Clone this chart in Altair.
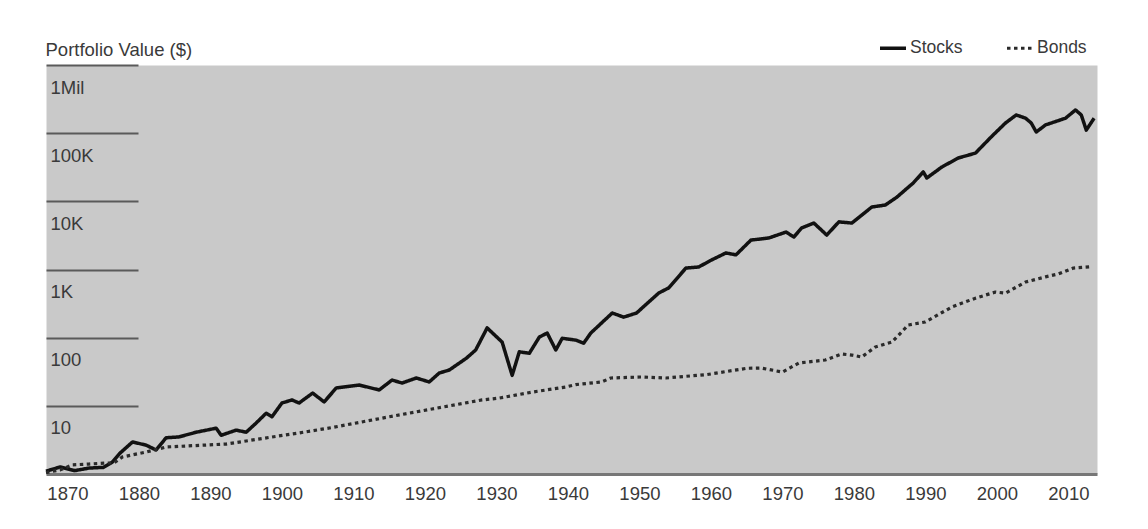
import altair as alt
import pandas as pd

# ---- data ----
stock_years = [1867, 1869, 1871, 1873, 1875, 1876.3, 1877.3, 1879.1, 1881, 1882.4,
               1883.8, 1885.6, 1888, 1890.8, 1891.5, 1893.6, 1895, 1896.4, 1897.8, 1898.6,
               1900, 1901.4, 1902.4, 1904.3, 1905.9, 1907.6, 1910.8, 1913.6, 1915.4, 1916.8,
               1918.8, 1920.6, 1922, 1923.4, 1925.8, 1927.1, 1928.7, 1930.8, 1932.2, 1933.2,
               1934.6, 1936, 1937.1, 1938.3, 1939.2, 1941.1, 1942.2, 1943.2, 1946.2, 1947.8,
               1949.6, 1952.7, 1954.1, 1956.5, 1958.3, 1960.1, 1962.1, 1963.5, 1965.6, 1968.1,
               1970.5, 1971.6, 1972.7, 1974.4, 1976.2, 1977.9, 1979.7, 1982.5, 1984.4, 1986,
               1988.3, 1989.7, 1990.2, 1992.3, 1994.6, 1997, 1999.2, 2001.2, 2002.7, 2004,
               2004.8, 2005.5, 2006.8, 2009.6, 2011, 2011.8, 2012.5, 2013.6]
stock_values = [1.1, 1.27, 1.12, 1.22, 1.25, 1.5, 2.0, 2.95, 2.65, 2.25,
                3.4, 3.5, 4.1, 4.7, 3.7, 4.4, 4.1, 5.6, 7.8, 6.9,
                11, 12.2, 11, 15.4, 11.4, 18.3, 20.2, 17.1, 23.9, 21.6,
                25.6, 22.4, 30.3, 33.5, 50, 66, 139, 86, 28, 62,
                59, 102, 117, 66, 98, 92, 83, 117, 230, 200,
                230, 452, 537, 1050, 1090, 1380, 1750, 1640, 2700, 2900,
                3540, 3000, 4070, 4800, 3200, 5000, 4800, 8250, 8830, 11500,
                18600, 27000, 22000, 31900, 43200, 51000, 88000, 141000, 185000, 166000,
                141000, 104000, 132000, 166000, 219000, 185000, 111000, 166000]

bond_years = [1867, 1869, 1870.7, 1873, 1875.4, 1876.5, 1877.7, 1881, 1883.8, 1889.4,
              1892.2, 1895, 1898.6, 1902.4, 1907, 1914, 1921, 1928, 1930.4, 1935,
              1939.7, 1941.1, 1944.7, 1946, 1950.3, 1953.7, 1959.5, 1965, 1967, 1970,
              1972.3, 1976, 1978.3, 1979.7, 1981.1, 1983, 1985.3, 1987.6, 1990, 1993.7,
              1997, 1999.8, 2001.2, 2004, 2006.8, 2008.6, 2010.7, 2013.3]
bond_values = [1.05, 1.15, 1.36, 1.4, 1.45, 1.45, 1.78, 2.1, 2.49, 2.66,
               2.75, 3.05, 3.49, 4.0, 4.8, 6.6, 9.0, 12.2, 13, 15.9,
               18.9, 20.5, 22.4, 25.6, 26.5, 25.6, 28.8, 35.5, 35.9, 31.3,
               42.5, 47, 57.6, 55.6, 52, 73, 86, 153, 170, 282,
               380, 467, 450, 655, 780, 860, 1050, 1100]

series_names = ["Stocks", "Bonds"]
x_tick_years = [1870, 1880, 1890, 1900, 1910, 1920, 1930, 1940, 1950, 1960, 1970, 1980, 1990, 2000, 2010]
y_tick_values = [10, 100, 1000, 10000, 100000, 1000000]
y_tick_labels = ["10", "100", "1K", "10K", "100K", "1Mil"]
x_domain = [1867, 2014]
y_domain = [1, 1000000]

rows = [{"year": y, "value": v, "series": "Stocks"} for y, v in zip(stock_years, stock_values)]
rows += [{"year": y, "value": v, "series": "Bonds"} for y, v in zip(bond_years, bond_values)]
df = pd.DataFrame(rows)

label_expr = " : ".join(
    f"round(datum.value) == {v} ? '{l}'" for v, l in zip(y_tick_values, y_tick_labels)
) + " : ''"

FONT = "Liberation Sans"
TXT = "#3a3a3a"
FS = 18.5

legend = alt.Legend(orient="none", legendX=832, legendY=-32,
                    direction="horizontal", title=None,
                    labelFont=FONT, labelFontSize=17.5,
                    labelColor=TXT, labelOffset=2,
                    columnPadding=37, padding=0,
                    symbolType="stroke", symbolSize=676,
                    symbolStrokeWidth=4)

chart = alt.Chart(df).mark_line(strokeCap="butt", strokeJoin="round").encode(
    x=alt.X("year:Q",
            scale=alt.Scale(domain=x_domain, nice=False, zero=False),
            axis=alt.Axis(values=x_tick_years, format="d", title=None, grid=False,
                          ticks=False, domain=True, domainColor="#777777", domainWidth=3,
                          labelFont=FONT, labelFontSize=FS, labelColor=TXT,
                          labelPadding=10, labelFlush=False)),
    y=alt.Y("value:Q",
            scale=alt.Scale(type="log", domain=y_domain, nice=False),
            axis=alt.Axis(values=y_tick_values, labelExpr=label_expr,
                          title="Portfolio Value ($)", titleAngle=0, titleAlign="left",
                          titleBaseline="alphabetic", titleX=-93, titleY=-10,
                          titleFont=FONT, titleFontSize=FS, titleFontWeight="normal",
                          titleColor=TXT,
                          grid=False, domain=False, ticks=True, tickSize=92,
                          tickColor="#5a5a5a", tickWidth=2, offset=-92,
                          labelAlign="left", labelBaseline="top", labelPadding=-4,
                          labelOffset=13, labelFont=FONT, labelFontSize=FS,
                          labelColor=TXT)),
    color=alt.Color("series:N",
                    scale=alt.Scale(domain=series_names, range=["#111111", "#2a2a2a"]),
                    legend=legend),
    strokeWidth=alt.StrokeWidth("series:N",
                                scale=alt.Scale(domain=series_names, range=[3.5, 3.2]),
                                legend=legend),
    strokeDash=alt.StrokeDash("series:N",
                              scale=alt.Scale(domain=series_names, range=[[1, 0], [3.5, 3.5]]),
                              legend=legend),
    order=alt.Order("year:Q"),
).properties(
    width=1051,
    height=409,
    autosize=alt.AutoSizeParams(type="none"),
    padding={"left": 38, "top": 57, "right": 43, "bottom": 47},
    background="white",
).configure_view(fill="#c9c9c9", stroke="transparent")

chart.save("out.html", embed_options={"renderer": "svg", "actions": False})
